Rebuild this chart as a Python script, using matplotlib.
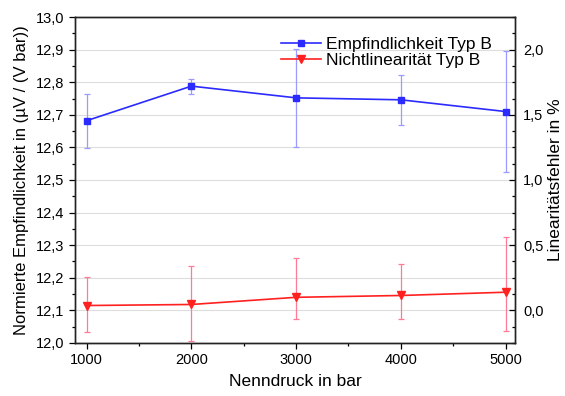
import matplotlib
matplotlib.use("Agg")
import matplotlib.pyplot as plt
from matplotlib.ticker import FuncFormatter, MultipleLocator, AutoMinorLocator
from matplotlib.lines import Line2D

plt.rcParams['font.family'] = ['Liberation Sans', 'DejaVu Sans']

pressure = [1000, 2000, 3000, 4000, 5000]
sens = [12.682, 12.788, 12.752, 12.746, 12.710]
sens_err = [0.083, 0.023, 0.151, 0.076, 0.185]
nonlin = [0.037, 0.045, 0.100, 0.114, 0.139]
nonlin_err_low = [0.205, 0.277, 0.165, 0.179, 0.294]
nonlin_err_high = [0.218, 0.294, 0.304, 0.244, 0.423]

BLUE = '#2b2bff'
BLUE_E = '#9b9bff'
RED = '#ff2020'
RED_E = '#ff7a96'

fig = plt.figure(figsize=(5.65, 3.96), dpi=100)
ax = fig.add_axes([0.1327, 0.134, 0.7788, 0.823])
ax2 = ax.twinx()

ax.set_xlim(888, 5090)
ax.set_ylim(12.0, 13.0)
ax2.set_ylim(-0.25, 2.25)

comma = lambda fmt: FuncFormatter(lambda v, p: (fmt % v).replace('.', ','))

ax.yaxis.set_major_locator(MultipleLocator(0.1))
ax.yaxis.set_minor_locator(AutoMinorLocator(2))
ax.yaxis.set_major_formatter(comma('%.1f'))
ax.xaxis.set_major_locator(MultipleLocator(1000))
ax.xaxis.set_minor_locator(AutoMinorLocator(2))
ax2.yaxis.set_major_locator(MultipleLocator(0.5))
ax2.yaxis.set_minor_locator(AutoMinorLocator(4))
ax2.yaxis.set_major_formatter(comma('%.1f'))

ax.grid(True, axis='y', color='#dddddd', linewidth=0.8)
ax.set_axisbelow(True)

ax.tick_params(axis='both', which='major', direction='out', length=4, labelsize=10.5, width=0.9)
ax.tick_params(axis='both', which='minor', direction='out', length=2.5, width=0.9)
ax2.tick_params(axis='y', which='major', direction='in', length=4, labelsize=10.5, width=0.9, pad=6)
ax2.tick_params(axis='y', which='minor', direction='in', length=2.5, width=0.9)

for a in (ax, ax2):
    for s in a.spines.values():
        s.set_linewidth(1.0)
        s.set_color('#222222')

ax.errorbar(pressure, sens, yerr=sens_err, color=BLUE, ecolor=BLUE_E,
            elinewidth=0.9, capsize=2, capthick=0.9, marker='s', markersize=4.5,
            linewidth=1.2, label='Empfindlichkeit Typ B')
ax2.errorbar(pressure, nonlin, yerr=[nonlin_err_low, nonlin_err_high], color=RED,
             ecolor=RED_E, elinewidth=0.9, capsize=2, capthick=0.9, marker='v',
             markersize=6, linewidth=1.2, label='Nichtlinearität Typ B')

h1 = Line2D([], [], color=BLUE, marker='s', markersize=4.5, linewidth=1.2)
h2 = Line2D([], [], color=RED, marker='v', markersize=6, linewidth=1.2)
ax.legend([h1, h2], ['Empfindlichkeit Typ B', 'Nichtlinearität Typ B'],
          loc='upper left', bbox_to_anchor=(0.44, 0.975), frameon=False,
          fontsize=12.5, handlelength=2.3, handletextpad=0.3, labelspacing=0.0,
          borderpad=0.2)

ax.set_xlabel('Nenndruck in bar', fontsize=12.5, labelpad=5)
ax.set_ylabel('Normierte Empfindlichkeit in (µV / (V bar))', fontsize=12, labelpad=5)
ax2.set_ylabel('Linearitätsfehler in %', fontsize=12.5, labelpad=3)

fig.savefig('out.png', dpi=100)
